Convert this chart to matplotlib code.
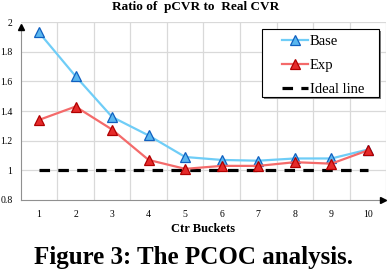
import matplotlib
matplotlib.use("Agg")
import matplotlib.pyplot as plt
from matplotlib.patches import Rectangle
import numpy as np

buckets = [1, 2, 3, 4, 5, 6, 7, 8, 9, 10]
base = [1.93, 1.635, 1.36, 1.235, 1.09, 1.07, 1.065, 1.08, 1.08, 1.14]
exp = [1.34, 1.43, 1.275, 1.07, 1.01, 1.03, 1.03, 1.055, 1.045, 1.135]
ideal = [1.0] * 10
yticks = [0.8, 1.0, 1.2, 1.4, 1.6, 1.8, 2.0]
ytick_labels = ["0.8", "1", "1.2", "1.4", "1.6", "1.8", "2"]

serif = "Liberation Serif"
fig = plt.figure(figsize=(3.88, 2.70), dpi=100)
ax = fig.add_axes([0.0534, 0.2593, 0.942, 0.659])
ax.set_xlim(0.5, 10.5)
ax.set_ylim(0.8, 2.0)

# grid
for xv in np.arange(1.5, 10.6, 1.0):
    ax.axvline(xv, color="#d9d9d9", lw=0.9, zorder=0)
for yv in yticks[1:]:
    ax.axhline(yv, color="#d9d9d9", lw=0.9, zorder=0)

ax.plot(buckets, ideal, color="black", lw=2.3, ls=(0, (3.3, 2.6)), label="Ideal line", zorder=2)
ax.plot(buckets, base, color="#6fcdf7", lw=1.6, marker="^", ms=6.5,
        mfc="#5ab7ef", mec="#1060c0", mew=0.9, label="Base", zorder=3)
ax.plot(buckets, exp, color="#f46a6a", lw=1.6, marker="^", ms=6.5,
        mfc="#e52a2a", mec="#b00000", mew=0.9, label="Exp", zorder=4)

for s in ["top", "right"]:
    ax.spines[s].set_visible(False)
ax.spines["left"].set_color("#909090")
ax.spines["bottom"].set_color("#909090")
ax.spines["left"].set_bounds(0.8, 1.97)
ax.plot([0.5], [1.965], marker="^", color="black", ms=5, clip_on=False, zorder=5)
ax.plot([10.42], [0.8], marker=">", color="black", ms=5, clip_on=False, zorder=5)

ax.set_xticks(buckets)
ax.set_xticklabels([str(b) for b in buckets], fontfamily=serif, fontsize=7)
ax.set_yticks(yticks)
ax.set_yticklabels(ytick_labels, fontfamily=serif, fontsize=7)
ax.tick_params(length=0, pad=7)
ax.tick_params(axis="y", pad=6)

ax.set_xlabel("Ctr Buckets", fontfamily=serif, fontsize=9, fontweight="bold", labelpad=3)
fig.text(0.503, 0.975, "Ratio of  pCVR to  Real CVR", ha="center", va="center",
         fontfamily=serif, fontsize=9.5, fontweight="bold")

# legend frame with shadow
fig.patches.append(Rectangle((0.680, 0.633), 0.3015, 0.252, transform=fig.transFigure,
                             facecolor="#808080", edgecolor="none", zorder=8))
fig.patches.append(Rectangle((0.675, 0.641), 0.3015, 0.252, transform=fig.transFigure,
                             facecolor="white", edgecolor="black", lw=0.8, zorder=9))

handles, labels = ax.get_legend_handles_labels()
order = [1, 2, 0]
leg = fig.legend([handles[i] for i in order], [labels[i] for i in order],
                 loc="upper left", bbox_to_anchor=(0.727, 0.870),
                 prop={"family": serif, "size": 10.5}, frameon=False,
                 handlelength=1.8, labelspacing=0.72, borderpad=0,
                 handletextpad=0.1, borderaxespad=0)
leg.set_zorder(10)

fig.text(0.5, 0.046, "Figure 3: The PCOC analysis.", ha="center", va="center",
         fontfamily=serif, fontsize=18, fontweight="bold")

fig.savefig("out.png", dpi=100)
